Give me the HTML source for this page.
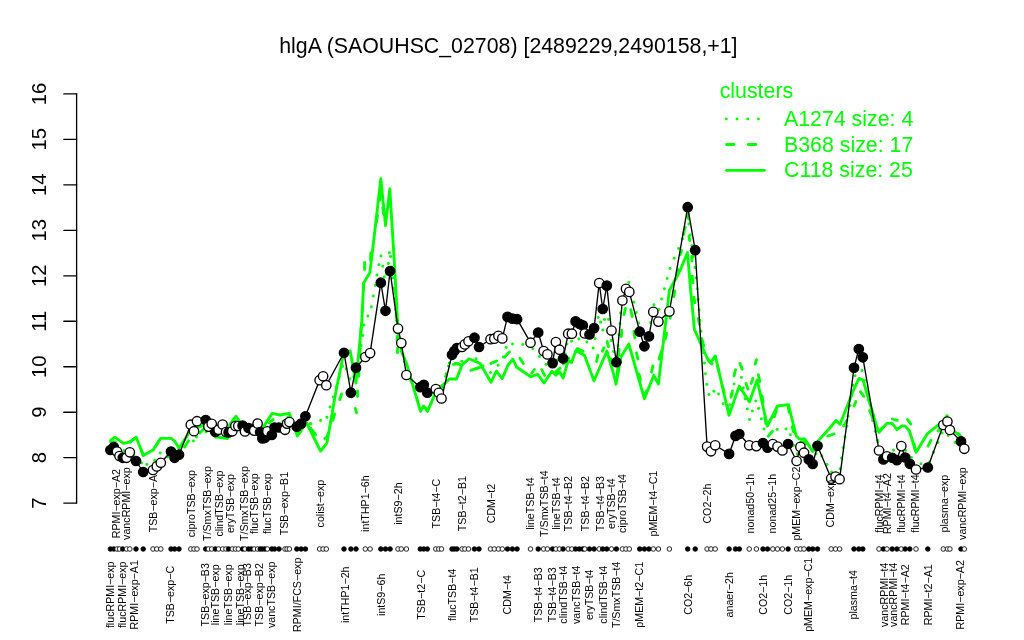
<!DOCTYPE html>
<html lang="en"><head><meta charset="utf-8"><title>hlgA expression profile</title>
<style>html,body{margin:0;padding:0;background:#fff}svg{display:block;will-change:transform}text{font-family:"Liberation Sans",Arial,Helvetica,sans-serif;fill:#000}.lab{font-size:10.67px;text-anchor:middle}.ax{font-size:20.3px;text-anchor:middle}.leg{font-size:21.33px;fill:#00ff00}</style></head><body>
<svg width="1024" height="640" viewBox="0 0 1024 640">
<rect width="1024" height="640" fill="#fff"/>
<text x="508.4" y="53.1" style="font-size:21.33px;text-anchor:middle">hlgA (SAOUHSC_02708) [2489229,2490158,+1]</text>
<g stroke="#000" stroke-width="1.35" fill="none" stroke-linecap="round">
<path d="M76.6,93.9V503.1"/>
<path d="M63.8,503.1H76.6"/>
<path d="M63.8,457.6H76.6"/>
<path d="M63.8,412.2H76.6"/>
<path d="M63.8,366.7H76.6"/>
<path d="M63.8,321.2H76.6"/>
<path d="M63.8,275.8H76.6"/>
<path d="M63.8,230.3H76.6"/>
<path d="M63.8,184.8H76.6"/>
<path d="M63.8,139.3H76.6"/>
<path d="M63.8,93.9H76.6"/>
</g>
<text class="ax" transform="translate(45.8,503.1) rotate(-90)">7</text>
<text class="ax" transform="translate(45.8,457.6) rotate(-90)">8</text>
<text class="ax" transform="translate(45.8,412.2) rotate(-90)">9</text>
<text class="ax" transform="translate(45.8,366.7) rotate(-90)">10</text>
<text class="ax" transform="translate(45.8,321.2) rotate(-90)">11</text>
<text class="ax" transform="translate(45.8,275.8) rotate(-90)">12</text>
<text class="ax" transform="translate(45.8,230.3) rotate(-90)">13</text>
<text class="ax" transform="translate(45.8,184.8) rotate(-90)">14</text>
<text class="ax" transform="translate(45.8,139.3) rotate(-90)">15</text>
<text class="ax" transform="translate(45.8,93.9) rotate(-90)">16</text>
<text class="leg" x="719.7" y="98">clusters</text>
<text class="leg" x="784" y="126.4">A1274 size: 4</text>
<text class="leg" x="784" y="151.9">B368 size: 17</text>
<text class="leg" x="784" y="177.4">C118 size: 25</text>
<g stroke="#00ff00" stroke-width="2.85" fill="none" stroke-linecap="round" stroke-linejoin="round">
<path d="M726.3,119H759" stroke-dasharray="0.01 10.7"/>
<path d="M726.6,144.5H758" stroke-dasharray="7.4 14.4"/>
<path d="M726.6,170.3H764.4"/>
<g fill="#00ff00" stroke="none">
<circle cx="114.8" cy="445.3" r="1.48"/>
<circle cx="124.0" cy="450.6" r="1.48"/>
<circle cx="133.8" cy="455.1" r="1.48"/>
<circle cx="141.5" cy="463.0" r="1.48"/>
<circle cx="146.9" cy="464.6" r="1.48"/>
<circle cx="154.6" cy="460.6" r="1.48"/>
<circle cx="160.2" cy="453.0" r="1.48"/>
<circle cx="167.8" cy="456.9" r="1.48"/>
<circle cx="177.2" cy="453.8" r="1.48"/>
<circle cx="185.0" cy="447.0" r="1.48"/>
<circle cx="193.4" cy="441.0" r="1.48"/>
<circle cx="196.5" cy="436.9" r="1.48"/>
<circle cx="206.1" cy="432.1" r="1.48"/>
<circle cx="216.9" cy="433.2" r="1.48"/>
<circle cx="227.3" cy="432.7" r="1.48"/>
<circle cx="235.0" cy="425.0" r="1.48"/>
<circle cx="243.7" cy="429.4" r="1.48"/>
<circle cx="254.0" cy="432.7" r="1.48"/>
<circle cx="263.6" cy="431.0" r="1.48"/>
<circle cx="310.9" cy="423.8" r="1.48"/>
<circle cx="283.0" cy="421.4" r="1.48"/>
<circle cx="292.2" cy="423.7" r="1.48"/>
<circle cx="299.8" cy="428.1" r="1.48"/>
<circle cx="309.9" cy="423.8" r="1.48"/>
<circle cx="320.6" cy="420.4" r="1.48"/>
<circle cx="326.9" cy="417.2" r="1.48"/>
<circle cx="330.0" cy="407.1" r="1.48"/>
<circle cx="333.1" cy="396.9" r="1.48"/>
<circle cx="336.2" cy="386.9" r="1.48"/>
<circle cx="339.4" cy="376.2" r="1.48"/>
<circle cx="342.5" cy="366.2" r="1.48"/>
<circle cx="346.2" cy="368.8" r="1.48"/>
<circle cx="350.0" cy="378.8" r="1.48"/>
<circle cx="353.7" cy="377.1" r="1.48"/>
<circle cx="357.0" cy="366.9" r="1.48"/>
<circle cx="359.1" cy="356.2" r="1.48"/>
<circle cx="361.2" cy="345.6" r="1.48"/>
<circle cx="362.8" cy="335.6" r="1.48"/>
<circle cx="364.0" cy="325.0" r="1.48"/>
<circle cx="367.8" cy="316.0" r="1.48"/>
<circle cx="371.4" cy="306.7" r="1.48"/>
<circle cx="373.3" cy="296.0" r="1.48"/>
<circle cx="375.3" cy="285.6" r="1.48"/>
<circle cx="376.9" cy="275.0" r="1.48"/>
<circle cx="378.9" cy="264.7" r="1.48"/>
<circle cx="380.9" cy="256.0" r="1.48"/>
<circle cx="382.7" cy="266.2" r="1.48"/>
<circle cx="384.2" cy="277.0" r="1.48"/>
<circle cx="386.6" cy="274.3" r="1.48"/>
<circle cx="388.3" cy="263.4" r="1.48"/>
<circle cx="389.4" cy="252.8" r="1.48"/>
<circle cx="390.6" cy="256.4" r="1.48"/>
<circle cx="391.7" cy="267.0" r="1.48"/>
<circle cx="392.8" cy="277.7" r="1.48"/>
<circle cx="393.8" cy="288.3" r="1.48"/>
<circle cx="394.8" cy="299.0" r="1.48"/>
<circle cx="395.7" cy="309.6" r="1.48"/>
<circle cx="396.7" cy="320.3" r="1.48"/>
<circle cx="397.6" cy="330.9" r="1.48"/>
<circle cx="399.3" cy="341.5" r="1.48"/>
<circle cx="446.2" cy="373.8" r="1.48"/>
<circle cx="404.4" cy="361.7" r="1.48"/>
<circle cx="407.5" cy="371.3" r="1.48"/>
<circle cx="410.7" cy="380.9" r="1.48"/>
<circle cx="414.0" cy="390.6" r="1.48"/>
<circle cx="417.2" cy="400.2" r="1.48"/>
<circle cx="420.4" cy="409.8" r="1.48"/>
<circle cx="426.1" cy="408.2" r="1.48"/>
<circle cx="431.1" cy="403.0" r="1.48"/>
<circle cx="449.4" cy="363.1" r="1.48"/>
<circle cx="442.7" cy="387.2" r="1.48"/>
<circle cx="445.5" cy="376.6" r="1.48"/>
<circle cx="448.5" cy="366.0" r="1.48"/>
<circle cx="453.2" cy="356.7" r="1.48"/>
<circle cx="461.9" cy="361.2" r="1.48"/>
<circle cx="476.2" cy="358.8" r="1.48"/>
<circle cx="483.0" cy="366.0" r="1.48"/>
<circle cx="490.6" cy="372.5" r="1.48"/>
<circle cx="498.1" cy="365.2" r="1.48"/>
<circle cx="503.3" cy="357.0" r="1.48"/>
<circle cx="506.2" cy="347.5" r="1.48"/>
<circle cx="512.5" cy="344.0" r="1.48"/>
<circle cx="522.8" cy="344.6" r="1.48"/>
<circle cx="532.8" cy="348.8" r="1.48"/>
<circle cx="539.5" cy="356.6" r="1.48"/>
<circle cx="546.2" cy="364.4" r="1.48"/>
<circle cx="553.5" cy="365.3" r="1.48"/>
<circle cx="557.6" cy="359.9" r="1.48"/>
<circle cx="563.4" cy="364.1" r="1.48"/>
<circle cx="565.2" cy="354.0" r="1.48"/>
<circle cx="566.9" cy="344.0" r="1.48"/>
<circle cx="571.6" cy="341.2" r="1.48"/>
<circle cx="578.9" cy="338.9" r="1.48"/>
<circle cx="586.9" cy="341.9" r="1.48"/>
<circle cx="593.2" cy="348.0" r="1.48"/>
<circle cx="595.0" cy="338.8" r="1.48"/>
<circle cx="597.2" cy="328.2" r="1.48"/>
<circle cx="598.1" cy="317.5" r="1.48"/>
<circle cx="600.6" cy="322.2" r="1.48"/>
<circle cx="602.8" cy="330.0" r="1.48"/>
<circle cx="604.4" cy="319.4" r="1.48"/>
<circle cx="608.5" cy="319.4" r="1.48"/>
<circle cx="609.3" cy="330.1" r="1.48"/>
<circle cx="611.2" cy="340.6" r="1.48"/>
<circle cx="613.6" cy="351.4" r="1.48"/>
<circle cx="615.8" cy="362.2" r="1.48"/>
<circle cx="617.1" cy="356.8" r="1.48"/>
<circle cx="618.0" cy="345.8" r="1.48"/>
<circle cx="618.9" cy="334.8" r="1.48"/>
<circle cx="620.0" cy="323.8" r="1.48"/>
<circle cx="620.6" cy="313.1" r="1.48"/>
<circle cx="623.7" cy="303.0" r="1.48"/>
<circle cx="625.5" cy="292.6" r="1.48"/>
<circle cx="628.8" cy="282.5" r="1.48"/>
<circle cx="631.2" cy="292.4" r="1.48"/>
<circle cx="633.8" cy="302.2" r="1.48"/>
<circle cx="636.2" cy="312.5" r="1.48"/>
<circle cx="638.8" cy="323.1" r="1.48"/>
<circle cx="641.6" cy="334.7" r="1.48"/>
<circle cx="644.5" cy="345.7" r="1.48"/>
<circle cx="647.5" cy="334.1" r="1.48"/>
<circle cx="650.6" cy="322.5" r="1.48"/>
<circle cx="652.3" cy="313.6" r="1.48"/>
<circle cx="654.0" cy="304.8" r="1.48"/>
<circle cx="658.8" cy="309.4" r="1.48"/>
<circle cx="661.6" cy="299.0" r="1.48"/>
<circle cx="664.4" cy="288.8" r="1.48"/>
<circle cx="667.2" cy="278.5" r="1.48"/>
<circle cx="670.0" cy="268.4" r="1.48"/>
<circle cx="674.2" cy="258.3" r="1.48"/>
<circle cx="678.6" cy="248.6" r="1.48"/>
<circle cx="682.5" cy="238.8" r="1.48"/>
<circle cx="685.3" cy="227.5" r="1.48"/>
<circle cx="687.4" cy="216.7" r="1.48"/>
<circle cx="688.9" cy="224.1" r="1.48"/>
<circle cx="690.3" cy="235.0" r="1.48"/>
<circle cx="691.8" cy="245.8" r="1.48"/>
<circle cx="693.4" cy="256.7" r="1.48"/>
<circle cx="695.0" cy="267.5" r="1.48"/>
<circle cx="696.2" cy="278.1" r="1.48"/>
<circle cx="697.2" cy="288.8" r="1.48"/>
<circle cx="698.1" cy="299.4" r="1.48"/>
<circle cx="699.1" cy="310.0" r="1.48"/>
<circle cx="700.0" cy="320.6" r="1.48"/>
<circle cx="701.0" cy="331.2" r="1.48"/>
<circle cx="702.2" cy="341.9" r="1.48"/>
<circle cx="703.3" cy="352.5" r="1.48"/>
<circle cx="704.5" cy="363.1" r="1.48"/>
<circle cx="705.5" cy="373.8" r="1.48"/>
<circle cx="706.8" cy="384.4" r="1.48"/>
<circle cx="708.9" cy="394.4" r="1.48"/>
<circle cx="713.9" cy="391.2" r="1.48"/>
<circle cx="718.5" cy="394.0" r="1.48"/>
<circle cx="723.2" cy="403.8" r="1.48"/>
<circle cx="729.7" cy="404.7" r="1.48"/>
<circle cx="731.9" cy="394.3" r="1.48"/>
<circle cx="734.1" cy="384.0" r="1.48"/>
<circle cx="741.4" cy="377.5" r="1.48"/>
<circle cx="743.2" cy="388.1" r="1.48"/>
<circle cx="745.1" cy="398.8" r="1.48"/>
<circle cx="747.4" cy="409.1" r="1.48"/>
<circle cx="749.5" cy="419.4" r="1.48"/>
<circle cx="752.4" cy="411.0" r="1.48"/>
<circle cx="755.8" cy="400.9" r="1.48"/>
<circle cx="758.6" cy="408.5" r="1.48"/>
<circle cx="761.4" cy="418.8" r="1.48"/>
<circle cx="764.0" cy="429.0" r="1.48"/>
<circle cx="777.2" cy="429.4" r="1.48"/>
<circle cx="786.0" cy="429.0" r="1.48"/>
<circle cx="790.4" cy="434.8" r="1.48"/>
<circle cx="793.7" cy="445.6" r="1.48"/>
<circle cx="797.3" cy="453.7" r="1.48"/>
<circle cx="803.7" cy="451.6" r="1.48"/>
<circle cx="811.0" cy="460.3" r="1.48"/>
<circle cx="816.0" cy="453.7" r="1.48"/>
<circle cx="821.9" cy="455.9" r="1.48"/>
<circle cx="826.9" cy="464.6" r="1.48"/>
<circle cx="831.6" cy="471.9" r="1.48"/>
<circle cx="840.0" cy="468.8" r="1.48"/>
<circle cx="841.5" cy="458.1" r="1.48"/>
<circle cx="843.1" cy="447.8" r="1.48"/>
<circle cx="845.0" cy="437.1" r="1.48"/>
<circle cx="846.9" cy="426.2" r="1.48"/>
<circle cx="848.1" cy="416.2" r="1.48"/>
<circle cx="850.0" cy="405.6" r="1.48"/>
<circle cx="851.6" cy="395.6" r="1.48"/>
<circle cx="853.1" cy="385.6" r="1.48"/>
<circle cx="855.1" cy="375.7" r="1.48"/>
<circle cx="857.5" cy="365.8" r="1.48"/>
<circle cx="861.9" cy="370.4" r="1.48"/>
<circle cx="864.3" cy="380.2" r="1.48"/>
<circle cx="866.2" cy="390.1" r="1.48"/>
<circle cx="868.1" cy="400.1" r="1.48"/>
<circle cx="877.6" cy="440.6" r="1.48"/>
<circle cx="872.6" cy="420.6" r="1.48"/>
<circle cx="875.3" cy="431.2" r="1.48"/>
<circle cx="877.8" cy="441.9" r="1.48"/>
<circle cx="883.2" cy="450.1" r="1.48"/>
<circle cx="893.5" cy="450.2" r="1.48"/>
<circle cx="905.5" cy="450.6" r="1.48"/>
<circle cx="911.4" cy="457.5" r="1.48"/>
<circle cx="921.0" cy="463.8" r="1.48"/>
<circle cx="929.5" cy="461.9" r="1.48"/>
<circle cx="933.5" cy="452.2" r="1.48"/>
<circle cx="937.9" cy="442.5" r="1.48"/>
<circle cx="942.2" cy="433.1" r="1.48"/>
<circle cx="947.1" cy="424.7" r="1.48"/>
<circle cx="948.2" cy="435.6" r="1.48"/>
<circle cx="955.1" cy="442.5" r="1.48"/>
<circle cx="963.7" cy="448.3" r="1.48"/>
</g>
<polyline points="155.4,446.4 158.9,441.0"/>
<polyline points="141.2,450.0 143.3,455.5 143.7,455.3"/>
<polyline points="130.0,442.0 135.1,438.1"/>
<polyline points="110.6,441.8 115.3,441.8"/>
<polyline points="184.5,446.7 188.5,440.8"/>
<polyline points="199.7,433.1 203.3,429.4"/>
<polyline points="217.7,432.2 224.0,432.8"/>
<polyline points="234.7,422.5 236.0,421.0 239.2,423.9"/>
<polyline points="252.4,431.4 258.6,432.7"/>
<polyline points="269.4,423.1 273.1,419.4"/>
<polyline points="287.8,417.2 289.4,417.0 291.2,421.3"/>
<polyline points="297.1,435.7 297.2,436.0 300.9,431.2"/>
<polyline points="310.6,428.2 315.7,434.9"/>
<polyline points="324.8,438.7 326.9,437.0 328.1,433.6"/>
<polyline points="332.8,420.4 334.7,414.0"/>
<polyline points="339.7,399.7 341.6,393.9"/>
<polyline points="347.9,392.0 350.9,395.0 351.5,397.0"/>
<polyline points="355.3,408.4 356.6,412.9"/>
<polyline points="357.5,396.6 357.5,390.9"/>
<polyline points="358.7,376.3 359.0,370.0"/>
<polyline points="359.8,354.9 360.1,348.5"/>
<polyline points="360.8,333.4 361.0,330.0 361.2,327.1"/>
<polyline points="362.1,312.0 362.5,305.6"/>
<polyline points="363.4,290.5 363.7,284.2"/>
<polyline points="364.6,269.6 364.6,262.5"/>
<polyline points="370.5,259.9 370.8,252.9"/>
<polyline points="397.5,348.4 397.5,352.8"/>
<polyline points="453.4,364.3 457.8,363.8"/>
<polyline points="376.6,221.8 377.5,215.5"/>
<polyline points="379.8,200.1 380.7,193.8"/>
<polyline points="382.8,207.7 383.6,213.9"/>
<polyline points="470.9,370.3 476.6,368.4"/>
<polyline points="395.4,288.2 395.6,294.5"/>
<polyline points="396.2,312.1 396.5,318.4"/>
<polyline points="397.1,336.0 397.3,342.4"/>
<polyline points="490.9,363.4 496.6,361.0"/>
<polyline points="455.4,363.5 458.8,363.8 461.2,365.4"/>
<polyline points="476.7,368.4 477.5,368.1 482.7,366.4"/>
<polyline points="504.4,357.4 509.4,351.9"/>
<polyline points="519.9,358.3 523.3,363.6"/>
<polyline points="531.8,373.0 534.4,369.5"/>
<polyline points="541.7,369.6 544.6,375.4"/>
<polyline points="555.7,371.7 556.0,372.0 560.0,368.0 560.1,368.3"/>
<polyline points="566.5,363.5 568.3,358.0 568.8,358.3"/>
<polyline points="577.4,348.6 583.1,351.3"/>
<polyline points="596.5,361.6 597.9,355.3"/>
<polyline points="602.4,351.2 604.0,347.7"/>
<polyline points="607.1,341.5 608.5,346.6"/>
<polyline points="611.0,358.9 612.3,365.1"/>
<polyline points="614.8,378.0 616.0,384.2"/>
<polyline points="617.2,374.8 617.7,368.5"/>
<polyline points="618.7,355.4 619.1,349.1"/>
<polyline points="621.3,336.6 621.8,330.3"/>
<polyline points="624.0,314.7 625.4,308.4"/>
<polyline points="630.8,309.7 632.3,316.6"/>
<polyline points="633.9,331.5 634.9,337.8"/>
<polyline points="636.5,352.8 637.9,359.1"/>
<polyline points="639.0,374.0 640.4,379.7"/>
<polyline points="645.4,392.9 646.5,390.8"/>
<polyline points="651.5,372.2 652.9,365.9"/>
<polyline points="659.0,359.1 661.6,350.9"/>
<polyline points="665.2,339.1 666.7,333.4"/>
<polyline points="670.1,318.2 671.2,311.9"/>
<polyline points="673.9,296.6 674.8,290.9"/>
<polyline points="677.1,275.9 678.1,269.7"/>
<polyline points="680.4,254.7 681.5,250.3"/>
<polyline points="683.5,234.4 684.6,228.4"/>
<polyline points="687.9,214.3 688.6,218.8"/>
<polyline points="688.9,236.2 689.8,240.7"/>
<polyline points="691.7,256.5 692.1,261.0"/>
<polyline points="692.3,276.1 693.0,282.8"/>
<polyline points="693.9,297.2 694.8,302.8"/>
<polyline points="698.3,318.4 699.2,324.1"/>
<polyline points="701.9,338.7 703.8,346.1"/>
<polyline points="707.9,359.7 708.0,360.0 712.0,364.0 712.2,363.7"/>
<polyline points="717.5,365.8 719.0,372.0"/>
<polyline points="722.5,386.2 724.1,392.4"/>
<polyline points="727.6,406.6 729.0,412.0 729.1,411.2"/>
<polyline points="731.0,397.2 732.4,390.9"/>
<polyline points="734.1,376.0 735.5,369.7"/>
<polyline points="739.9,363.4 742.2,369.1"/>
<polyline points="746.0,383.4 748.0,389.1"/>
<polyline points="751.1,383.5 752.9,378.4"/>
<polyline points="755.2,364.1 756.5,359.6"/>
<polyline points="758.4,374.7 759.7,381.6"/>
<polyline points="762.1,395.9 763.1,402.2"/>
<polyline points="764.9,416.9 765.7,423.2"/>
<polyline points="768.1,436.2 772.5,431.3"/>
<polyline points="774.3,416.9 776.3,410.9"/>
<polyline points="788.0,406.2 789.3,412.5"/>
<polyline points="792.1,426.5 793.5,431.6"/>
<polyline points="800.9,442.0 805.0,442.0 806.3,443.8"/>
<polyline points="814.2,450.2 817.2,444.6"/>
<polyline points="827.8,436.0 834.1,434.0"/>
<polyline points="843.6,426.1 847.0,420.2"/>
<polyline points="854.1,406.0 855.9,401.5"/>
<polyline points="860.4,391.7 863.9,396.5"/>
<polyline points="869.6,410.5 873.5,419.8"/>
<polyline points="878.9,431.8 879.0,432.0 882.8,427.2"/>
<polyline points="892.3,419.0 897.4,420.4"/>
<polyline points="907.5,419.5 910.9,424.2"/>
<polyline points="914.1,443.9 915.2,450.1"/>
<polyline points="928.0,446.1 931.0,440.2"/>
<polyline points="938.1,431.0 942.1,426.0"/>
<polyline points="947.7,420.7 949.2,426.9"/>
<polyline points="957.8,433.5 960.0,435.1"/>
<polyline points="110.6,440.3 114.8,437.2 123.4,443.4 129.7,442.2 136.2,437.2 143.3,455.5 153.1,450.0 160.6,438.3 171.1,438.3 175.0,441.4 178.9,448.4 189.4,432.2 197.0,428.0 205.7,424.0 211.0,432.0 215.5,437.0 221.5,437.5 227.5,438.5 229.5,425.0 235.9,416.2 240.0,422.0 246.0,428.0 260.0,432.0 272.2,413.4 280.0,415.0 289.4,413.4 297.2,435.3 306.5,422.8 320.6,451.0 326.9,443.1 336.2,390.0 343.9,352.0 350.2,351.0 355.9,383.0 361.9,320.0 363.6,283.0 369.8,272.8 373.8,240.0 380.8,178.6 385.5,225.5 389.8,188.8 394.8,270.0 398.0,330.0 401.3,351.0 406.4,363.0 420.5,411.4 423.6,406.0 427.5,411.4 435.8,392.0 442.5,385.3 449.5,379.0 456.5,379.0 462.0,365.0 469.0,358.8 480.0,363.4 491.0,382.2 496.4,371.2 502.2,378.6 508.1,365.0 512.8,359.2 516.7,367.3 530.8,376.7 537.8,374.4 544.0,383.0 551.9,371.2 555.8,375.2 559.7,372.0 563.1,378.0 568.3,360.3 571.4,362.7 576.0,350.3 584.5,355.5 594.0,380.8 606.9,351.0 616.2,383.1 621.0,357.0 628.8,344.0 644.4,398.8 653.8,375.3 658.4,384.0 669.4,290.3 680.3,270.0 687.5,252.5 690.6,290.0 694.4,329.4 706.9,357.5 710.3,362.8 715.3,355.8 729.0,415.4 739.2,386.2 749.4,401.9 757.2,380.0 767.3,426.0 777.5,406.0 788.4,404.7 796.2,436.0 799.4,439.0 804.8,439.0 812.7,451.6 817.7,441.4 829.8,428.0 836.0,420.4 840.0,424.3 854.0,389.0 859.0,378.4 863.0,380.0 877.8,430.0 879.0,432.0 886.9,423.4 892.0,423.4 897.0,429.7 901.7,425.8 905.0,425.8 909.5,431.2 916.1,452.3 927.5,433.6 943.3,421.0 947.0,415.6 950.0,428.0 961.0,436.7 964.3,440.0"/>
</g>
<polyline points="110.4,450.0 113.8,447.0 117.0,451.6 119.5,456.0 122.8,457.8 126.5,457.8 129.8,452.3 136.0,461.0 143.2,472.0 153.0,470.0 156.8,466.4 160.8,462.8 171.0,451.5 174.6,457.8 179.0,454.7 190.8,424.7 194.0,431.2 197.0,421.2 205.7,420.0 208.4,426.6 211.7,423.8 215.4,432.0 218.6,429.8 222.6,424.5 226.0,432.0 228.6,432.4 232.3,431.3 235.4,426.0 238.3,426.0 242.6,425.6 245.0,431.4 248.5,428.0 251.3,429.0 254.2,430.6 257.6,423.6 260.2,432.0 262.4,438.4 265.0,437.8 267.4,431.4 271.8,435.0 274.5,427.5 279.0,427.5 285.0,429.8 287.1,423.6 289.4,422.0 296.8,426.7 301.1,423.6 305.4,416.3 319.6,380.2 323.1,376.3 326.3,385.2 344.0,352.8 350.9,392.7 356.0,367.7 365.3,357.0 370.1,353.1 380.8,282.7 385.5,310.8 390.1,271.0 398.0,328.6 401.3,343.1 406.4,375.0 420.3,387.2 423.8,384.8 427.3,392.7 435.8,389.0 438.8,392.8 441.5,398.5 452.0,354.8 454.3,351.0 456.9,348.0 462.1,347.0 464.9,344.4 468.5,341.3 474.5,337.7 479.0,347.0 490.5,339.2 494.3,338.7 498.4,335.8 502.3,338.4 507.5,316.9 512.4,318.6 517.1,319.2 530.5,342.7 538.2,332.5 543.6,351.0 547.4,354.4 552.6,363.1 555.9,342.0 559.5,349.7 563.1,358.5 568.2,333.7 571.9,333.7 575.6,321.4 579.3,323.8 582.8,325.4 584.8,333.5 589.5,334.5 594.1,328.1 599.2,283.0 602.7,309.0 606.8,285.6 611.5,330.5 616.4,362.2 622.4,300.5 626.0,288.8 629.3,291.9 639.7,331.7 644.4,346.3 648.9,336.4 653.3,311.9 658.4,321.6 669.4,311.4 687.7,207.2 695.2,250.2 707.1,446.6 711.0,451.3 715.2,445.3 729.1,453.9 735.5,435.9 739.3,434.0 749.2,445.3 756.4,446.1 763.0,443.0 767.5,447.6 772.8,444.0 777.5,446.6 782.4,450.5 788.1,444.0 796.6,461.0 800.4,446.9 804.0,452.7 808.8,459.4 812.7,464.0 817.5,445.8 831.2,478.6 835.5,476.6 839.6,479.2 854.0,367.8 858.8,349.0 862.8,357.3 879.0,450.5 883.4,459.4 887.0,456.3 892.2,457.8 896.9,460.2 901.3,446.1 905.2,457.5 909.8,463.8 916.0,469.5 927.8,467.5 943.3,425.0 947.4,421.6 949.9,430.0 961.0,441.4 964.3,448.8" stroke="#000" stroke-width="1.35" fill="none" stroke-linejoin="round"/>
<g stroke="#000" stroke-width="1.35">
<circle cx="110.4" cy="450.0" r="4.7" fill="#000"/>
<circle cx="113.8" cy="447.0" r="4.7" fill="#000"/>
<circle cx="117.0" cy="451.6" r="4.7" fill="#fff"/>
<circle cx="119.5" cy="456.0" r="4.7" fill="#fff"/>
<circle cx="122.8" cy="457.8" r="4.7" fill="#000"/>
<circle cx="126.5" cy="457.8" r="4.7" fill="#fff"/>
<circle cx="129.8" cy="452.3" r="4.7" fill="#fff"/>
<circle cx="136.0" cy="461.0" r="4.7" fill="#000"/>
<circle cx="143.2" cy="472.0" r="4.7" fill="#000"/>
<circle cx="153.0" cy="470.0" r="4.7" fill="#fff"/>
<circle cx="156.8" cy="466.4" r="4.7" fill="#fff"/>
<circle cx="160.8" cy="462.8" r="4.7" fill="#fff"/>
<circle cx="171.0" cy="451.5" r="4.7" fill="#000"/>
<circle cx="174.6" cy="457.8" r="4.7" fill="#000"/>
<circle cx="179.0" cy="454.7" r="4.7" fill="#000"/>
<circle cx="190.8" cy="424.7" r="4.7" fill="#fff"/>
<circle cx="194.0" cy="431.2" r="4.7" fill="#fff"/>
<circle cx="197.0" cy="421.2" r="4.7" fill="#fff"/>
<circle cx="205.7" cy="420.0" r="4.7" fill="#000"/>
<circle cx="208.4" cy="426.6" r="4.7" fill="#fff"/>
<circle cx="211.7" cy="423.8" r="4.7" fill="#fff"/>
<circle cx="215.4" cy="432.0" r="4.7" fill="#000"/>
<circle cx="218.6" cy="429.8" r="4.7" fill="#fff"/>
<circle cx="222.6" cy="424.5" r="4.7" fill="#fff"/>
<circle cx="226.0" cy="432.0" r="4.7" fill="#fff"/>
<circle cx="228.6" cy="432.4" r="4.7" fill="#000"/>
<circle cx="232.3" cy="431.3" r="4.7" fill="#fff"/>
<circle cx="235.4" cy="426.0" r="4.7" fill="#fff"/>
<circle cx="238.3" cy="426.0" r="4.7" fill="#fff"/>
<circle cx="242.6" cy="425.6" r="4.7" fill="#000"/>
<circle cx="245.0" cy="431.4" r="4.7" fill="#fff"/>
<circle cx="248.5" cy="428.0" r="4.7" fill="#000"/>
<circle cx="251.3" cy="429.0" r="4.7" fill="#000"/>
<circle cx="254.2" cy="430.6" r="4.7" fill="#fff"/>
<circle cx="257.6" cy="423.6" r="4.7" fill="#fff"/>
<circle cx="260.2" cy="432.0" r="4.7" fill="#000"/>
<circle cx="262.4" cy="438.4" r="4.7" fill="#000"/>
<circle cx="265.0" cy="437.8" r="4.7" fill="#000"/>
<circle cx="267.4" cy="431.4" r="4.7" fill="#fff"/>
<circle cx="271.8" cy="435.0" r="4.7" fill="#000"/>
<circle cx="274.5" cy="427.5" r="4.7" fill="#000"/>
<circle cx="279.0" cy="427.5" r="4.7" fill="#000"/>
<circle cx="285.0" cy="429.8" r="4.7" fill="#fff"/>
<circle cx="287.1" cy="423.6" r="4.7" fill="#fff"/>
<circle cx="289.4" cy="422.0" r="4.7" fill="#fff"/>
<circle cx="296.8" cy="426.7" r="4.7" fill="#000"/>
<circle cx="301.1" cy="423.6" r="4.7" fill="#000"/>
<circle cx="305.4" cy="416.3" r="4.7" fill="#000"/>
<circle cx="319.6" cy="380.2" r="4.7" fill="#fff"/>
<circle cx="323.1" cy="376.3" r="4.7" fill="#fff"/>
<circle cx="326.3" cy="385.2" r="4.7" fill="#fff"/>
<circle cx="344.0" cy="352.8" r="4.7" fill="#000"/>
<circle cx="350.9" cy="392.7" r="4.7" fill="#000"/>
<circle cx="356.0" cy="367.7" r="4.7" fill="#000"/>
<circle cx="365.3" cy="357.0" r="4.7" fill="#fff"/>
<circle cx="370.1" cy="353.1" r="4.7" fill="#fff"/>
<circle cx="380.8" cy="282.7" r="4.7" fill="#000"/>
<circle cx="385.5" cy="310.8" r="4.7" fill="#000"/>
<circle cx="390.1" cy="271.0" r="4.7" fill="#000"/>
<circle cx="398.0" cy="328.6" r="4.7" fill="#fff"/>
<circle cx="401.3" cy="343.1" r="4.7" fill="#fff"/>
<circle cx="406.4" cy="375.0" r="4.7" fill="#fff"/>
<circle cx="420.3" cy="387.2" r="4.7" fill="#000"/>
<circle cx="423.8" cy="384.8" r="4.7" fill="#000"/>
<circle cx="427.3" cy="392.7" r="4.7" fill="#000"/>
<circle cx="435.8" cy="389.0" r="4.7" fill="#fff"/>
<circle cx="438.8" cy="392.8" r="4.7" fill="#fff"/>
<circle cx="441.5" cy="398.5" r="4.7" fill="#fff"/>
<circle cx="452.0" cy="354.8" r="4.7" fill="#000"/>
<circle cx="454.3" cy="351.0" r="4.7" fill="#000"/>
<circle cx="456.9" cy="348.0" r="4.7" fill="#000"/>
<circle cx="462.1" cy="347.0" r="4.7" fill="#fff"/>
<circle cx="464.9" cy="344.4" r="4.7" fill="#fff"/>
<circle cx="468.5" cy="341.3" r="4.7" fill="#fff"/>
<circle cx="474.5" cy="337.7" r="4.7" fill="#000"/>
<circle cx="479.0" cy="347.0" r="4.7" fill="#000"/>
<circle cx="490.5" cy="339.2" r="4.7" fill="#fff"/>
<circle cx="494.3" cy="338.7" r="4.7" fill="#fff"/>
<circle cx="498.4" cy="335.8" r="4.7" fill="#fff"/>
<circle cx="502.3" cy="338.4" r="4.7" fill="#fff"/>
<circle cx="507.5" cy="316.9" r="4.7" fill="#000"/>
<circle cx="512.4" cy="318.6" r="4.7" fill="#000"/>
<circle cx="517.1" cy="319.2" r="4.7" fill="#000"/>
<circle cx="530.5" cy="342.7" r="4.7" fill="#fff"/>
<circle cx="538.2" cy="332.5" r="4.7" fill="#000"/>
<circle cx="543.6" cy="351.0" r="4.7" fill="#fff"/>
<circle cx="547.4" cy="354.4" r="4.7" fill="#fff"/>
<circle cx="552.6" cy="363.1" r="4.7" fill="#000"/>
<circle cx="555.9" cy="342.0" r="4.7" fill="#fff"/>
<circle cx="559.5" cy="349.7" r="4.7" fill="#fff"/>
<circle cx="563.1" cy="358.5" r="4.7" fill="#000"/>
<circle cx="568.2" cy="333.7" r="4.7" fill="#fff"/>
<circle cx="571.9" cy="333.7" r="4.7" fill="#fff"/>
<circle cx="575.6" cy="321.4" r="4.7" fill="#000"/>
<circle cx="579.3" cy="323.8" r="4.7" fill="#000"/>
<circle cx="582.8" cy="325.4" r="4.7" fill="#000"/>
<circle cx="584.8" cy="333.5" r="4.7" fill="#fff"/>
<circle cx="589.5" cy="334.5" r="4.7" fill="#000"/>
<circle cx="594.1" cy="328.1" r="4.7" fill="#000"/>
<circle cx="599.2" cy="283.0" r="4.7" fill="#fff"/>
<circle cx="602.7" cy="309.0" r="4.7" fill="#000"/>
<circle cx="606.8" cy="285.6" r="4.7" fill="#000"/>
<circle cx="611.5" cy="330.5" r="4.7" fill="#fff"/>
<circle cx="616.4" cy="362.2" r="4.7" fill="#000"/>
<circle cx="622.4" cy="300.5" r="4.7" fill="#fff"/>
<circle cx="626.0" cy="288.8" r="4.7" fill="#fff"/>
<circle cx="629.3" cy="291.9" r="4.7" fill="#fff"/>
<circle cx="639.7" cy="331.7" r="4.7" fill="#000"/>
<circle cx="644.4" cy="346.3" r="4.7" fill="#000"/>
<circle cx="648.9" cy="336.4" r="4.7" fill="#000"/>
<circle cx="653.3" cy="311.9" r="4.7" fill="#fff"/>
<circle cx="658.4" cy="321.6" r="4.7" fill="#fff"/>
<circle cx="669.4" cy="311.4" r="4.7" fill="#fff"/>
<circle cx="687.7" cy="207.2" r="4.7" fill="#000"/>
<circle cx="695.2" cy="250.2" r="4.7" fill="#000"/>
<circle cx="707.1" cy="446.6" r="4.7" fill="#fff"/>
<circle cx="711.0" cy="451.3" r="4.7" fill="#fff"/>
<circle cx="715.2" cy="445.3" r="4.7" fill="#fff"/>
<circle cx="729.1" cy="453.9" r="4.7" fill="#000"/>
<circle cx="735.5" cy="435.9" r="4.7" fill="#000"/>
<circle cx="739.3" cy="434.0" r="4.7" fill="#000"/>
<circle cx="749.2" cy="445.3" r="4.7" fill="#fff"/>
<circle cx="756.4" cy="446.1" r="4.7" fill="#fff"/>
<circle cx="763.0" cy="443.0" r="4.7" fill="#000"/>
<circle cx="767.5" cy="447.6" r="4.7" fill="#000"/>
<circle cx="772.8" cy="444.0" r="4.7" fill="#fff"/>
<circle cx="777.5" cy="446.6" r="4.7" fill="#fff"/>
<circle cx="782.4" cy="450.5" r="4.7" fill="#fff"/>
<circle cx="788.1" cy="444.0" r="4.7" fill="#000"/>
<circle cx="796.6" cy="461.0" r="4.7" fill="#fff"/>
<circle cx="800.4" cy="446.9" r="4.7" fill="#fff"/>
<circle cx="804.0" cy="452.7" r="4.7" fill="#fff"/>
<circle cx="808.8" cy="459.4" r="4.7" fill="#000"/>
<circle cx="812.7" cy="464.0" r="4.7" fill="#000"/>
<circle cx="817.5" cy="445.8" r="4.7" fill="#000"/>
<circle cx="831.2" cy="478.6" r="4.7" fill="#fff"/>
<circle cx="835.5" cy="476.6" r="4.7" fill="#fff"/>
<circle cx="839.6" cy="479.2" r="4.7" fill="#fff"/>
<circle cx="854.0" cy="367.8" r="4.7" fill="#000"/>
<circle cx="858.8" cy="349.0" r="4.7" fill="#000"/>
<circle cx="862.8" cy="357.3" r="4.7" fill="#000"/>
<circle cx="879.0" cy="450.5" r="4.7" fill="#fff"/>
<circle cx="883.4" cy="459.4" r="4.7" fill="#000"/>
<circle cx="887.0" cy="456.3" r="4.7" fill="#fff"/>
<circle cx="892.2" cy="457.8" r="4.7" fill="#000"/>
<circle cx="896.9" cy="460.2" r="4.7" fill="#000"/>
<circle cx="901.3" cy="446.1" r="4.7" fill="#fff"/>
<circle cx="905.2" cy="457.5" r="4.7" fill="#000"/>
<circle cx="909.8" cy="463.8" r="4.7" fill="#000"/>
<circle cx="916.0" cy="469.5" r="4.7" fill="#fff"/>
<circle cx="927.8" cy="467.5" r="4.7" fill="#000"/>
<circle cx="943.3" cy="425.0" r="4.7" fill="#fff"/>
<circle cx="947.4" cy="421.6" r="4.7" fill="#fff"/>
<circle cx="949.9" cy="430.0" r="4.7" fill="#fff"/>
<circle cx="961.0" cy="441.4" r="4.7" fill="#000"/>
<circle cx="964.3" cy="448.8" r="4.7" fill="#fff"/>
</g>
<g stroke="#000" stroke-width="0.85">
<circle cx="110.4" cy="549" r="2.3" fill="#000"/>
<circle cx="113.8" cy="549" r="2.3" fill="#000"/>
<circle cx="117.0" cy="549" r="2.3" fill="#fff"/>
<circle cx="119.5" cy="549" r="2.3" fill="#fff"/>
<circle cx="122.8" cy="549" r="2.3" fill="#000"/>
<circle cx="126.5" cy="549" r="2.3" fill="#fff"/>
<circle cx="129.8" cy="549" r="2.3" fill="#fff"/>
<circle cx="136.0" cy="549" r="2.3" fill="#000"/>
<circle cx="143.2" cy="549" r="2.3" fill="#000"/>
<circle cx="153.0" cy="549" r="2.3" fill="#fff"/>
<circle cx="156.8" cy="549" r="2.3" fill="#fff"/>
<circle cx="160.8" cy="549" r="2.3" fill="#fff"/>
<circle cx="171.0" cy="549" r="2.3" fill="#000"/>
<circle cx="174.6" cy="549" r="2.3" fill="#000"/>
<circle cx="179.0" cy="549" r="2.3" fill="#000"/>
<circle cx="190.8" cy="549" r="2.3" fill="#fff"/>
<circle cx="194.0" cy="549" r="2.3" fill="#fff"/>
<circle cx="197.0" cy="549" r="2.3" fill="#fff"/>
<circle cx="205.7" cy="549" r="2.3" fill="#000"/>
<circle cx="208.4" cy="549" r="2.3" fill="#fff"/>
<circle cx="211.7" cy="549" r="2.3" fill="#fff"/>
<circle cx="215.4" cy="549" r="2.3" fill="#000"/>
<circle cx="218.6" cy="549" r="2.3" fill="#fff"/>
<circle cx="222.6" cy="549" r="2.3" fill="#fff"/>
<circle cx="226.0" cy="549" r="2.3" fill="#fff"/>
<circle cx="228.6" cy="549" r="2.3" fill="#000"/>
<circle cx="232.3" cy="549" r="2.3" fill="#fff"/>
<circle cx="235.4" cy="549" r="2.3" fill="#fff"/>
<circle cx="238.3" cy="549" r="2.3" fill="#fff"/>
<circle cx="242.6" cy="549" r="2.3" fill="#000"/>
<circle cx="245.0" cy="549" r="2.3" fill="#fff"/>
<circle cx="248.5" cy="549" r="2.3" fill="#000"/>
<circle cx="251.3" cy="549" r="2.3" fill="#000"/>
<circle cx="254.2" cy="549" r="2.3" fill="#fff"/>
<circle cx="257.6" cy="549" r="2.3" fill="#fff"/>
<circle cx="260.2" cy="549" r="2.3" fill="#000"/>
<circle cx="262.4" cy="549" r="2.3" fill="#000"/>
<circle cx="265.0" cy="549" r="2.3" fill="#000"/>
<circle cx="267.4" cy="549" r="2.3" fill="#fff"/>
<circle cx="271.8" cy="549" r="2.3" fill="#000"/>
<circle cx="274.5" cy="549" r="2.3" fill="#000"/>
<circle cx="279.0" cy="549" r="2.3" fill="#000"/>
<circle cx="285.0" cy="549" r="2.3" fill="#fff"/>
<circle cx="287.1" cy="549" r="2.3" fill="#fff"/>
<circle cx="289.4" cy="549" r="2.3" fill="#fff"/>
<circle cx="296.8" cy="549" r="2.3" fill="#000"/>
<circle cx="301.1" cy="549" r="2.3" fill="#000"/>
<circle cx="305.4" cy="549" r="2.3" fill="#000"/>
<circle cx="319.6" cy="549" r="2.3" fill="#fff"/>
<circle cx="323.1" cy="549" r="2.3" fill="#fff"/>
<circle cx="326.3" cy="549" r="2.3" fill="#fff"/>
<circle cx="344.0" cy="549" r="2.3" fill="#000"/>
<circle cx="350.9" cy="549" r="2.3" fill="#000"/>
<circle cx="356.0" cy="549" r="2.3" fill="#000"/>
<circle cx="365.3" cy="549" r="2.3" fill="#fff"/>
<circle cx="370.1" cy="549" r="2.3" fill="#fff"/>
<circle cx="380.8" cy="549" r="2.3" fill="#000"/>
<circle cx="385.5" cy="549" r="2.3" fill="#000"/>
<circle cx="390.1" cy="549" r="2.3" fill="#000"/>
<circle cx="398.0" cy="549" r="2.3" fill="#fff"/>
<circle cx="401.3" cy="549" r="2.3" fill="#fff"/>
<circle cx="406.4" cy="549" r="2.3" fill="#fff"/>
<circle cx="420.3" cy="549" r="2.3" fill="#000"/>
<circle cx="423.8" cy="549" r="2.3" fill="#000"/>
<circle cx="427.3" cy="549" r="2.3" fill="#000"/>
<circle cx="435.8" cy="549" r="2.3" fill="#fff"/>
<circle cx="438.8" cy="549" r="2.3" fill="#fff"/>
<circle cx="441.5" cy="549" r="2.3" fill="#fff"/>
<circle cx="452.0" cy="549" r="2.3" fill="#000"/>
<circle cx="454.3" cy="549" r="2.3" fill="#000"/>
<circle cx="456.9" cy="549" r="2.3" fill="#000"/>
<circle cx="462.1" cy="549" r="2.3" fill="#fff"/>
<circle cx="464.9" cy="549" r="2.3" fill="#fff"/>
<circle cx="468.5" cy="549" r="2.3" fill="#fff"/>
<circle cx="474.5" cy="549" r="2.3" fill="#000"/>
<circle cx="479.0" cy="549" r="2.3" fill="#000"/>
<circle cx="490.5" cy="549" r="2.3" fill="#fff"/>
<circle cx="494.3" cy="549" r="2.3" fill="#fff"/>
<circle cx="498.4" cy="549" r="2.3" fill="#fff"/>
<circle cx="502.3" cy="549" r="2.3" fill="#fff"/>
<circle cx="507.5" cy="549" r="2.3" fill="#000"/>
<circle cx="512.4" cy="549" r="2.3" fill="#000"/>
<circle cx="517.1" cy="549" r="2.3" fill="#000"/>
<circle cx="530.5" cy="549" r="2.3" fill="#fff"/>
<circle cx="538.2" cy="549" r="2.3" fill="#000"/>
<circle cx="543.6" cy="549" r="2.3" fill="#fff"/>
<circle cx="547.4" cy="549" r="2.3" fill="#fff"/>
<circle cx="552.6" cy="549" r="2.3" fill="#000"/>
<circle cx="555.9" cy="549" r="2.3" fill="#fff"/>
<circle cx="559.5" cy="549" r="2.3" fill="#fff"/>
<circle cx="563.1" cy="549" r="2.3" fill="#000"/>
<circle cx="568.2" cy="549" r="2.3" fill="#fff"/>
<circle cx="571.9" cy="549" r="2.3" fill="#fff"/>
<circle cx="575.6" cy="549" r="2.3" fill="#000"/>
<circle cx="579.3" cy="549" r="2.3" fill="#000"/>
<circle cx="582.8" cy="549" r="2.3" fill="#000"/>
<circle cx="584.8" cy="549" r="2.3" fill="#fff"/>
<circle cx="589.5" cy="549" r="2.3" fill="#000"/>
<circle cx="594.1" cy="549" r="2.3" fill="#000"/>
<circle cx="599.2" cy="549" r="2.3" fill="#fff"/>
<circle cx="602.7" cy="549" r="2.3" fill="#000"/>
<circle cx="606.8" cy="549" r="2.3" fill="#000"/>
<circle cx="611.5" cy="549" r="2.3" fill="#fff"/>
<circle cx="616.4" cy="549" r="2.3" fill="#000"/>
<circle cx="622.4" cy="549" r="2.3" fill="#fff"/>
<circle cx="626.0" cy="549" r="2.3" fill="#fff"/>
<circle cx="629.3" cy="549" r="2.3" fill="#fff"/>
<circle cx="639.7" cy="549" r="2.3" fill="#000"/>
<circle cx="644.4" cy="549" r="2.3" fill="#000"/>
<circle cx="648.9" cy="549" r="2.3" fill="#000"/>
<circle cx="653.3" cy="549" r="2.3" fill="#fff"/>
<circle cx="658.4" cy="549" r="2.3" fill="#fff"/>
<circle cx="669.4" cy="549" r="2.3" fill="#fff"/>
<circle cx="687.7" cy="549" r="2.3" fill="#000"/>
<circle cx="695.2" cy="549" r="2.3" fill="#000"/>
<circle cx="707.1" cy="549" r="2.3" fill="#fff"/>
<circle cx="711.0" cy="549" r="2.3" fill="#fff"/>
<circle cx="715.2" cy="549" r="2.3" fill="#fff"/>
<circle cx="729.1" cy="549" r="2.3" fill="#000"/>
<circle cx="735.5" cy="549" r="2.3" fill="#000"/>
<circle cx="739.3" cy="549" r="2.3" fill="#000"/>
<circle cx="749.2" cy="549" r="2.3" fill="#fff"/>
<circle cx="756.4" cy="549" r="2.3" fill="#fff"/>
<circle cx="763.0" cy="549" r="2.3" fill="#000"/>
<circle cx="767.5" cy="549" r="2.3" fill="#000"/>
<circle cx="772.8" cy="549" r="2.3" fill="#fff"/>
<circle cx="777.5" cy="549" r="2.3" fill="#fff"/>
<circle cx="782.4" cy="549" r="2.3" fill="#fff"/>
<circle cx="788.1" cy="549" r="2.3" fill="#000"/>
<circle cx="796.6" cy="549" r="2.3" fill="#fff"/>
<circle cx="800.4" cy="549" r="2.3" fill="#fff"/>
<circle cx="804.0" cy="549" r="2.3" fill="#fff"/>
<circle cx="808.8" cy="549" r="2.3" fill="#000"/>
<circle cx="812.7" cy="549" r="2.3" fill="#000"/>
<circle cx="817.5" cy="549" r="2.3" fill="#000"/>
<circle cx="831.2" cy="549" r="2.3" fill="#fff"/>
<circle cx="835.5" cy="549" r="2.3" fill="#fff"/>
<circle cx="839.6" cy="549" r="2.3" fill="#fff"/>
<circle cx="854.0" cy="549" r="2.3" fill="#000"/>
<circle cx="858.8" cy="549" r="2.3" fill="#000"/>
<circle cx="862.8" cy="549" r="2.3" fill="#000"/>
<circle cx="879.0" cy="549" r="2.3" fill="#fff"/>
<circle cx="883.4" cy="549" r="2.3" fill="#000"/>
<circle cx="887.0" cy="549" r="2.3" fill="#fff"/>
<circle cx="892.2" cy="549" r="2.3" fill="#000"/>
<circle cx="896.9" cy="549" r="2.3" fill="#000"/>
<circle cx="901.3" cy="549" r="2.3" fill="#fff"/>
<circle cx="905.2" cy="549" r="2.3" fill="#000"/>
<circle cx="909.8" cy="549" r="2.3" fill="#000"/>
<circle cx="916.0" cy="549" r="2.3" fill="#fff"/>
<circle cx="927.8" cy="549" r="2.3" fill="#000"/>
<circle cx="943.3" cy="549" r="2.3" fill="#fff"/>
<circle cx="947.4" cy="549" r="2.3" fill="#fff"/>
<circle cx="949.9" cy="549" r="2.3" fill="#fff"/>
<circle cx="961.0" cy="549" r="2.3" fill="#000"/>
<circle cx="964.3" cy="549" r="2.3" fill="#fff"/>
</g>
<text class="lab" transform="translate(113.8,594.8) rotate(-90)">flucRPMI−exp</text>
<text class="lab" transform="translate(120.0,503.6) rotate(-90)">RPMI−exp−A2</text>
<text class="lab" transform="translate(125.8,594.8) rotate(-90)">flucRPMI−exp</text>
<text class="lab" transform="translate(129.7,503.6) rotate(-90)">vancRPMI−exp</text>
<text class="lab" transform="translate(138.3,594.8) rotate(-90)">RPMI−exp−A1</text>
<text class="lab" transform="translate(157.0,503.6) rotate(-90)">TSB−exp−A</text>
<text class="lab" transform="translate(174.2,594.8) rotate(-90)">TSB−exp−C</text>
<text class="lab" transform="translate(194.5,503.6) rotate(-90)">ciproTSB−exp</text>
<text class="lab" transform="translate(208.8,594.8) rotate(-90)">TSB−exp−B3</text>
<text class="lab" transform="translate(211.1,503.6) rotate(-90)">T/SmxTSB−exp</text>
<text class="lab" transform="translate(218.8,594.8) rotate(-90)">lineTSB−exp</text>
<text class="lab" transform="translate(222.8,503.6) rotate(-90)">clindTSB−exp</text>
<text class="lab" transform="translate(232.0,594.8) rotate(-90)">lineTSB−exp</text>
<text class="lab" transform="translate(233.8,503.6) rotate(-90)">eryTSB−exp</text>
<text class="lab" transform="translate(243.8,594.8) rotate(-90)">lineTSB−exp</text>
<text class="lab" transform="translate(248.1,503.6) rotate(-90)">T/SmxTSB−exp</text>
<text class="lab" transform="translate(250.9,594.8) rotate(-90)">TSB−exp−B3</text>
<text class="lab" transform="translate(257.5,503.6) rotate(-90)">flucTSB−exp</text>
<text class="lab" transform="translate(262.5,594.8) rotate(-90)">TSB−exp−B2</text>
<text class="lab" transform="translate(270.5,503.6) rotate(-90)">flucTSB−exp</text>
<text class="lab" transform="translate(275.0,594.8) rotate(-90)">vancTSB−exp</text>
<text class="lab" transform="translate(288.4,503.6) rotate(-90)">TSB−exp−B1</text>
<text class="lab" transform="translate(300.8,594.8) rotate(-90)">RPMI/FCS−exp</text>
<text class="lab" transform="translate(323.8,503.6) rotate(-90)">colist−exp</text>
<text class="lab" transform="translate(348.7,594.8) rotate(-90)">intTHP1−2h</text>
<text class="lab" transform="translate(368.8,503.6) rotate(-90)">intTHP1−6h</text>
<text class="lab" transform="translate(385.4,594.8) rotate(-90)">intS9−6h</text>
<text class="lab" transform="translate(401.9,503.6) rotate(-90)">intS9−2h</text>
<text class="lab" transform="translate(425.2,594.8) rotate(-90)">TSB−t2−C</text>
<text class="lab" transform="translate(440.0,503.6) rotate(-90)">TSB−t4−C</text>
<text class="lab" transform="translate(456.4,594.8) rotate(-90)">flucTSB−t4</text>
<text class="lab" transform="translate(466.2,503.6) rotate(-90)">TSB−t2−B1</text>
<text class="lab" transform="translate(478.4,594.8) rotate(-90)">TSB−t4−B1</text>
<text class="lab" transform="translate(494.8,503.6) rotate(-90)">CDM−t2</text>
<text class="lab" transform="translate(511.2,594.8) rotate(-90)">CDM−t4</text>
<text class="lab" transform="translate(534.0,503.6) rotate(-90)">lineTSB−t4</text>
<text class="lab" transform="translate(541.9,594.8) rotate(-90)">TSB−t4−B3</text>
<text class="lab" transform="translate(547.8,503.6) rotate(-90)">T/SmxTSB−t4</text>
<text class="lab" transform="translate(556.2,594.8) rotate(-90)">TSB−t4−B3</text>
<text class="lab" transform="translate(559.8,503.6) rotate(-90)">lineTSB−t4</text>
<text class="lab" transform="translate(566.9,594.8) rotate(-90)">clindTSB−t4</text>
<text class="lab" transform="translate(572.0,503.6) rotate(-90)">TSB−t4−B2</text>
<text class="lab" transform="translate(579.8,594.8) rotate(-90)">vancTSB−t4</text>
<text class="lab" transform="translate(588.8,503.6) rotate(-90)">TSB−t4−B2</text>
<text class="lab" transform="translate(592.7,594.8) rotate(-90)">eryTSB−t4</text>
<text class="lab" transform="translate(603.6,503.6) rotate(-90)">TSB−t4−B3</text>
<text class="lab" transform="translate(606.7,594.8) rotate(-90)">clindTSB−t4</text>
<text class="lab" transform="translate(614.5,503.6) rotate(-90)">eryTSB−t4</text>
<text class="lab" transform="translate(619.5,594.8) rotate(-90)">T/SmxTSB−t4</text>
<text class="lab" transform="translate(626.2,503.6) rotate(-90)">ciproTSB−t4</text>
<text class="lab" transform="translate(642.5,594.8) rotate(-90)">pMEM−t2−C1</text>
<text class="lab" transform="translate(656.6,503.6) rotate(-90)">pMEM−t4−C1</text>
<text class="lab" transform="translate(691.7,594.8) rotate(-90)">CO2−6h</text>
<text class="lab" transform="translate(711.2,503.6) rotate(-90)">CO2−2h</text>
<text class="lab" transform="translate(732.8,594.8) rotate(-90)">anaer−2h</text>
<text class="lab" transform="translate(753.8,503.6) rotate(-90)">nonad50−1h</text>
<text class="lab" transform="translate(766.9,594.8) rotate(-90)">CO2−1h</text>
<text class="lab" transform="translate(776.2,503.6) rotate(-90)">nonad25−1h</text>
<text class="lab" transform="translate(791.6,594.8) rotate(-90)">CO2−1h</text>
<text class="lab" transform="translate(799.8,503.6) rotate(-90)">pMEM−exp−C2</text>
<text class="lab" transform="translate(811.9,594.8) rotate(-90)">pMEM−exp−C1</text>
<text class="lab" transform="translate(834.2,503.6) rotate(-90)">CDM−exp</text>
<text class="lab" transform="translate(857.0,594.8) rotate(-90)">plasma−t4</text>
<text class="lab" transform="translate(882.8,503.6) rotate(-90)">flucRPMI−t4</text>
<text class="lab" transform="translate(887.5,594.8) rotate(-90)">vancRPMI−t4</text>
<text class="lab" transform="translate(890.9,503.6) rotate(-90)">RPMI−t4−A2</text>
<text class="lab" transform="translate(896.9,594.8) rotate(-90)">vancRPMI−t4</text>
<text class="lab" transform="translate(905.0,503.6) rotate(-90)">flucRPMI−t4</text>
<text class="lab" transform="translate(909.0,594.8) rotate(-90)">RPMI−t4−A2</text>
<text class="lab" transform="translate(919.2,503.6) rotate(-90)">flucRPMI−t4</text>
<text class="lab" transform="translate(931.6,594.8) rotate(-90)">RPMI−t2−A1</text>
<text class="lab" transform="translate(947.7,503.6) rotate(-90)">plasma−exp</text>
<text class="lab" transform="translate(964.4,594.8) rotate(-90)">RPMI−exp−A2</text>
<text class="lab" transform="translate(966.4,503.6) rotate(-90)">vancRPMI−exp</text>
</svg></body></html>
